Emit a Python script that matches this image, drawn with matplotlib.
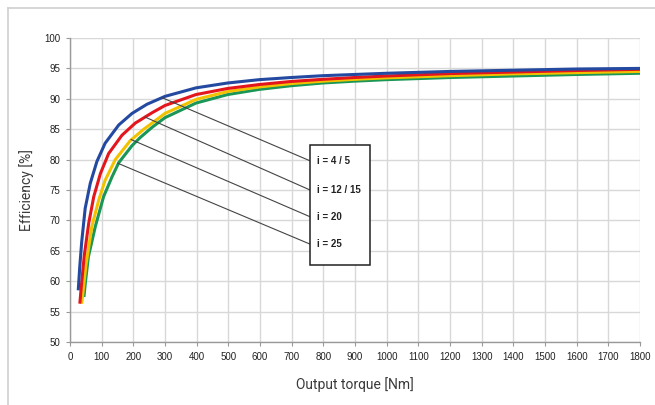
import matplotlib
matplotlib.use("Agg")
import matplotlib.pyplot as plt
from matplotlib.patches import Rectangle
from matplotlib.lines import Line2D

# efficiency curves (torque in Nm, efficiency in %)
torque_b = [26, 31, 37, 48, 64, 85, 111, 154, 196, 221, 243, 300, 398, 498, 598, 698, 798,
            898, 1000, 1200, 1400, 1600, 1800]
eff_b = [58.5, 62.5, 66.5, 72.0, 76.1, 79.7, 82.7, 85.7, 87.6, 88.4, 89.1, 90.4, 91.8, 92.6,
         93.15, 93.5, 93.8, 94.0, 94.2, 94.5, 94.7, 94.9, 95.0]

torque_r = [31, 36, 45, 59, 75, 96, 122, 164, 206, 237, 259, 300, 398, 498, 598, 698, 798,
            898, 1000, 1200, 1400, 1600, 1800]
eff_r = [56.3, 59.3, 64.2, 69.5, 73.9, 77.7, 81.0, 84.0, 86.0, 87.0, 87.7, 88.9, 90.7, 91.7,
         92.35, 92.85, 93.2, 93.5, 93.75, 94.15, 94.4, 94.65, 94.85]

torque_y = [37, 41, 50, 69, 91, 111, 143, 190, 233, 259, 300, 398, 498, 598, 698, 798, 898,
            1000, 1200, 1400, 1600, 1800]
eff_y = [56.3, 58.2, 62.5, 69.0, 73.4, 76.6, 80.0, 83.1, 85.0, 86.0, 87.6, 89.9, 91.2, 91.95,
         92.5, 92.9, 93.2, 93.45, 93.8, 94.1, 94.3, 94.5]

torque_g = [44, 48, 58, 80, 106, 133, 154, 196, 221, 259, 300, 398, 498, 598, 698, 798, 898,
            1000, 1200, 1400, 1600, 1800]
eff_g = [57.4, 59.5, 64.0, 69.0, 73.9, 77.2, 79.5, 82.3, 83.6, 85.3, 86.9, 89.3, 90.7, 91.55,
         92.15, 92.6, 92.9, 93.15, 93.5, 93.75, 94.0, 94.2]

labels = ["i = 4 / 5", "i = 12 / 15", "i = 20", "i = 25"]
# where each leader line touches its curve
anchor_x = [290, 237, 193, 151]
anchor_y = [90.2, 87.0, 83.3, 79.4]
label_y = [79.8, 75.0, 70.6, 66.1]

x_ticks = list(range(0, 1801, 100))
y_ticks = list(range(50, 101, 5))

tick_font = ["Liberation Sans", "DejaVu Sans"]
label_font = ["Roboto", "DejaVu Sans"]

fig = plt.figure(figsize=(6.55, 4.05), dpi=100)
ax = fig.add_axes([70 / 655, 63 / 405, 570 / 655, 304 / 405])

# light frame round the picture (left and top edges show)
fig.add_artist(Line2D([8 / 655, 8 / 655], [0, 1 - 8 / 405], transform=fig.transFigure,
                      color="#d0d0d0", lw=1.2))
fig.add_artist(Line2D([8 / 655, 1], [1 - 8 / 405, 1 - 8 / 405], transform=fig.transFigure,
                      color="#d0d0d0", lw=1.2))

colors = ["#2349a0", "#e3161d", "#f2c200", "#1a9657"]
curves = [(torque_g, eff_g), (torque_y, eff_y), (torque_r, eff_r), (torque_b, eff_b)]
for (t, e), c in zip(curves, colors[::-1]):
    ax.plot(t, e, color=c, lw=2.2, solid_capstyle="butt", solid_joinstyle="round", zorder=3)

# label box and leader lines
box_x0, box_x1 = 758, 947
box_y0, box_y1 = 62.7, 82.4
ax.add_patch(Rectangle((box_x0, box_y0), box_x1 - box_x0, box_y1 - box_y0,
                       facecolor="white", edgecolor="#222222", lw=1.1, zorder=5))
for lab, a_x, a_y, ly in zip(labels, anchor_x, anchor_y, label_y):
    ax.plot([a_x, box_x0], [a_y, ly], color="#444444", lw=0.8, zorder=4)
    ax.text(box_x0 + 22, ly, lab, fontsize=7, family=tick_font, fontweight="bold",
            color="#222222", va="center", ha="left", zorder=6)

ax.set_xlim(0, 1800)
ax.set_ylim(50, 100)
ax.set_xticks(x_ticks)
ax.set_yticks(y_ticks)
ax.grid(True, color="#d8d8d8", lw=1.0, zorder=0)
ax.set_axisbelow(True)
for side in ["top", "right"]:
    ax.spines[side].set_visible(False)
for side in ["left", "bottom"]:
    ax.spines[side].set_color("#999999")
    ax.spines[side].set_linewidth(1.0)
ax.tick_params(length=3, color="#999999", labelsize=7, pad=4, labelcolor="#222222")
for lab in ax.get_xticklabels() + ax.get_yticklabels():
    lab.set_family(tick_font)

ax.set_ylabel("Efficiency [%]", fontsize=10, family=label_font,
              color="#3a3a3a", labelpad=7)
ax.set_xlabel("Output torque [Nm]", fontsize=10, family=label_font,
              color="#3a3a3a", labelpad=11)

fig.savefig("out.png", dpi=100)
